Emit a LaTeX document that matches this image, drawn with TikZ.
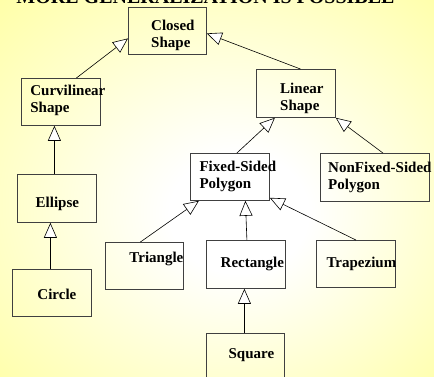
\documentclass[tikz,border=0pt]{standalone}
\usepackage{fontspec}
\setmainfont{Liberation Serif}
\usetikzlibrary{arrows.meta,calc}
\definecolor{yelbg}{RGB}{255,255,153}
\pgfdeclareradialshading{bgglow}{\pgfpoint{3bp}{-4bp}}{color(0bp)=(white); color(8bp)=(white); color(42bp)=(yelbg); color(50bp)=(yelbg)}

\begin{document}
\begin{tikzpicture}[x=1pt,y=-1pt,
  cls/.style={draw=black!75, line width=0.8pt, minimum width=79pt, minimum height=47pt, anchor=north west, inner sep=0pt},
  txt/.style={font=\fontsize{15}{17}\selectfont\bfseries, align=left, inner sep=0pt},
  gen/.style={draw=black, line width=0.6pt, -{Triangle[fill=white, length=15pt, width=13pt]}}]

  \useasboundingbox (0,0) rectangle (434,376);
  \shade[shading=bgglow] (0,0) rectangle (434,376);

  \node[font=\fontsize{20}{24}\selectfont\bfseries, anchor=base] (title) at (205.5,3) {MORE GENERALIZATION IS POSSIBLE};

  % classes
  \node[cls, minimum width=78pt, label={[txt, xshift=5.5pt, yshift=-4.75pt]center:Closed\\Shape}] (closed) at (128,7) {};
  \node[cls, label={[txt, xshift=7pt, yshift=1.25pt]center:Curvilinear\\Shape}] (curvi) at (21,78) {};
  \node[cls, minimum height=48pt, label={[txt, xshift=6pt, yshift=-5pt]center:Linear\\Shape}] (linear) at (256,69) {};
  \node[cls, minimum height=48pt, label={[txt, xshift=0.5pt, yshift=-5.75pt]center:Ellipse}] (ellipse) at (17,174) {};
  \node[cls, label={[txt, xshift=5pt, yshift=-1pt]center:Circle}] (circle) at (12,269) {};
  \node[cls, label={[txt, xshift=8pt]center:Fixed-Sided\\Polygon}] (fixed) at (190,153) {};
  \node[cls, minimum width=109pt, minimum height=48pt, label={[txt, xshift=5pt]center:NonFixed-Sided\\Polygon}] (nonfixed) at (320,153) {};
  \node[cls, minimum width=78pt, label={[txt, xshift=12pt, yshift=6.75pt]center:Triangle}] (triangle) at (105,242) {};
  \node[cls, minimum height=48pt, label={[txt, xshift=6.5pt]center:Rectangle}] (rectangle) at (206,240) {};
  \node[cls, label={[txt, xshift=5.5pt]center:Trapezium}] (trapezium) at (316,240) {};
  \node[cls, minimum width=78pt, label={[txt, xshift=6pt, yshift=1.75pt]center:Square}] (square) at (206,333) {};

  % generalization arrows
  \draw[gen] ($(curvi.north)+(15.5,0)$) -- ($(closed.west)+(0,7.5)$);
  \draw[gen] ($(linear.north)+(4.5,0)$) -- ($(closed.east)+(0,2.5)$);
  \draw[gen] ($(ellipse.north)+(-2.5,0)$) -- ($(curvi.south)+(-6.5,0)$);
  \draw[gen] ($(circle.north)+(-1.5,0)$) -- ($(ellipse.south)+(-6.5,0)$);
  \draw[gen] ($(fixed.north)+(7,0)$) -- ($(linear.south)+(-21,0)$);
  \draw[gen] ($(nonfixed.north)+(8,0)$) -- (linear.south east);
  \draw[gen] ($(triangle.north)+(-4,0)$) -- ($(fixed.south)+(-31,0)$);
  \draw[gen] ($(rectangle.north)+(1,0)$) -- ($(fixed.south)+(15.5,0)$);
  \draw[gen] (trapezium.north) -- ($(fixed.south east)+(0,-3)$);
  \draw[gen] ($(square.north)+(-1,0)$) -- ($(rectangle.south)+(-1.5,0)$);
\end{tikzpicture}
\end{document}
